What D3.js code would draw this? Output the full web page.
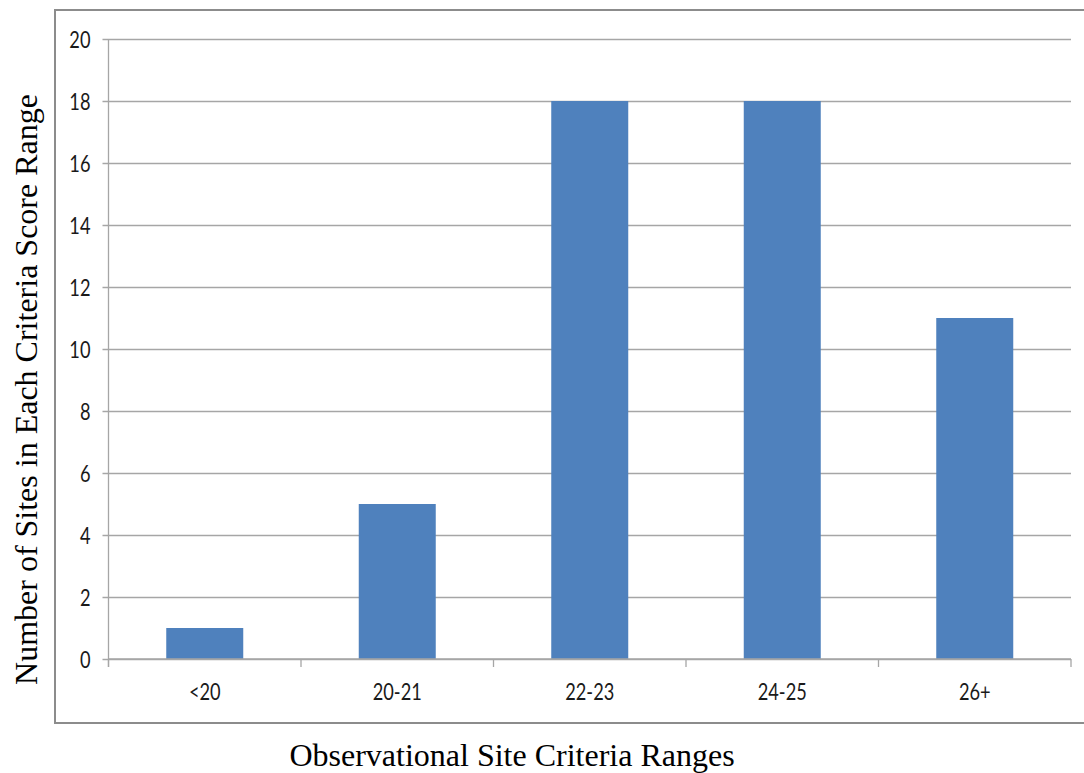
<!DOCTYPE html>
<html>
<head>
<meta charset="utf-8">
<script src="https://cdn.jsdelivr.net/npm/d3@7"></script>
<style>
  html, body { margin: 0; padding: 0; background: #ffffff; }
  svg { display: block; }
</style>
</head>
<body>
<script>
// Score-range categories and the number of sites falling in each
const categories = ["<20", "20-21", "22-23", "24-25", "26+"];
const siteCounts = [1, 5, 18, 18, 11];
const yTicks = [0, 2, 4, 6, 8, 10, 12, 14, 16, 18, 20];

const W = 1084, H = 773;
const plot = { left: 108.5, right: 1071, top: 39, bottom: 659 };

const svg = d3.select("body").append("svg")
  .attr("width", W).attr("height", H);

// Chart frame
svg.append("rect")
  .attr("x", 55).attr("y", 10)
  .attr("width", 1100).attr("height", 713)
  .attr("fill", "none")
  .attr("stroke", "#8c8c8c")
  .attr("stroke-width", 2);

const x = d3.scaleBand()
  .domain(categories)
  .range([plot.left, plot.right]);

const y = d3.scaleLinear()
  .domain([0, 20])
  .range([plot.bottom, plot.top]);

// Narrow sans look for tick labels: Lato squeezed horizontally
const tickFont = "Lato, 'Open Sans', sans-serif";
const tickSize = 24;
const squeeze = 0.76;

// Horizontal gridlines with left tick marks
const yAxis = d3.axisLeft(y)
  .tickValues(yTicks)
  .tickSize(-(plot.right - plot.left))
  .tickFormat(d3.format("d"));

const gy = svg.append("g")
  .attr("transform", `translate(${plot.left},0)`)
  .call(yAxis);
gy.select(".domain").remove();
gy.selectAll(".tick line")
  .attr("x1", -6)
  .attr("stroke", "#a6a6a6")
  .attr("stroke-width", 1.3);
gy.selectAll(".tick text").remove();
gy.selectAll(".tick").append("text")
  .attr("transform", `translate(-18,0) scale(${squeeze},1)`)
  .attr("dy", "0.35em")
  .attr("text-anchor", "end")
  .attr("font-family", tickFont)
  .attr("font-size", tickSize)
  .attr("fill", "#1a1a1a")
  .text(d => d3.format("d")(d));

// Vertical axis line
svg.append("line")
  .attr("x1", plot.left).attr("x2", plot.left)
  .attr("y1", plot.top).attr("y2", plot.bottom + 8)
  .attr("stroke", "#a6a6a6")
  .attr("stroke-width", 1.3);

// Bars
const barFrac = 0.4;
svg.append("g").selectAll("rect")
  .data(siteCounts)
  .join("rect")
  .attr("x", (d, i) => x(categories[i]) + x.bandwidth() * (1 - barFrac) / 2)
  .attr("width", x.bandwidth() * barFrac)
  .attr("y", d => y(d))
  .attr("height", d => y(0) - y(d))
  .attr("fill", "#4f81bd");

// Category axis with boundary tick marks
const gx = svg.append("g")
  .attr("transform", `translate(0,${plot.bottom})`);
gx.append("line")
  .attr("x1", plot.left).attr("x2", plot.right)
  .attr("stroke", "#a6a6a6").attr("stroke-width", 1.6);
const bounds = categories.map(c => x(c)).concat([plot.right]);
gx.selectAll("line.bound")
  .data(bounds)
  .join("line")
  .attr("class", "bound")
  .attr("x1", d => d).attr("x2", d => d)
  .attr("y1", 0).attr("y2", 8)
  .attr("stroke", "#a6a6a6").attr("stroke-width", 1.3);
gx.selectAll("text")
  .data(categories)
  .join("text")
  .attr("transform", d => `translate(${x(d) + x.bandwidth() / 2},41) scale(${squeeze},1)`)
  .attr("text-anchor", "middle")
  .attr("font-family", tickFont)
  .attr("font-size", tickSize)
  .attr("fill", "#1a1a1a")
  .text(d => d);

// Axis titles
const titleFont = "'Liberation Serif', 'Times New Roman', serif";
svg.append("text")
  .attr("x", 512).attr("y", 766)
  .attr("text-anchor", "middle")
  .attr("font-family", titleFont)
  .attr("font-size", 32)
  .attr("fill", "#000")
  .text("Observational Site Criteria Ranges");

svg.append("text")
  .attr("transform", "translate(37,389.5) rotate(-90)")
  .attr("text-anchor", "middle")
  .attr("font-family", titleFont)
  .attr("font-size", 32)
  .attr("fill", "#000")
  .text("Number of Sites in Each Criteria Score Range");
</script>
</body>
</html>
